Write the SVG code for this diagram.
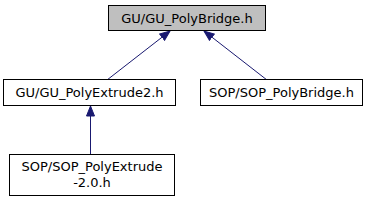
<svg xmlns="http://www.w3.org/2000/svg" width="373" height="201" viewBox="0 0 373 201">
<defs>
<marker id="ah" viewBox="0 0 10 10" refX="10" refY="5" markerWidth="11" markerHeight="10" markerUnits="userSpaceOnUse" orient="auto">
<path d="M0,1 L10,5 L0,9 Z" fill="#191970" stroke="#191970"/>
</marker>
</defs>
<style>
.box{fill:#ffffff;stroke:#000000;stroke-width:1}
.cur{fill:#bfbfbf}
text{font-family:"DejaVu Sans",sans-serif;font-size:13px;fill:#000000;text-anchor:middle}
.edge{stroke:#191970;stroke-width:1;fill:none;marker-end:url(#ah)}
</style>
<rect width="373" height="201" fill="#ffffff"/>
<g id="edges">
<path class="edge" d="M107,80 L170,31"/>
<path class="edge" d="M267,80 L204,31"/>
<path class="edge" d="M90.5,155 L90.5,106"/>
</g>
<g id="node1">
<rect class="box cur" x="108.5" y="5.5" width="157" height="25"/>
<text x="187" y="22.5">GU/GU_PolyBridge.h</text>
</g>
<g id="node2">
<rect class="box" x="3.5" y="79.5" width="172" height="26"/>
<text x="89.5" y="97">GU/GU_PolyExtrude2.h</text>
</g>
<g id="node3">
<rect class="box" x="200.5" y="79.5" width="162" height="26"/>
<text x="281.5" y="97">SOP/SOP_PolyBridge.h</text>
</g>
<g id="node4">
<rect class="box" x="9.5" y="154.5" width="165" height="41"/>
<text x="92" y="171">SOP/SOP_PolyExtrude</text>
<text x="92" y="187">-2.0.h</text>
</g>
</svg>
